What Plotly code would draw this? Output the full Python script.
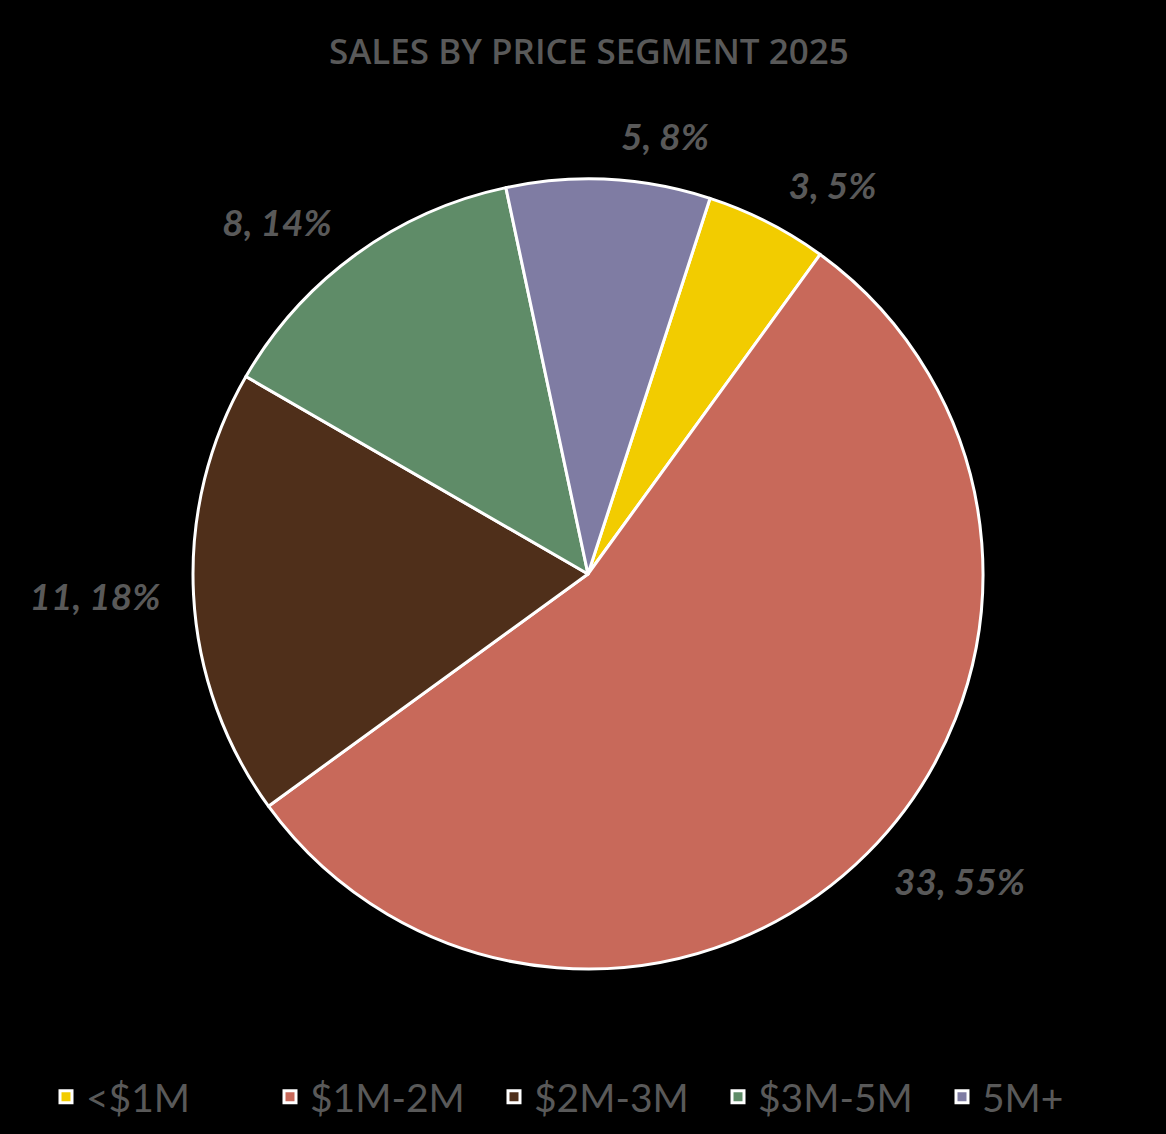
import plotly.graph_objects as go

categories = ["<$1M", "$1M-2M", "$2M-3M", "$3M-5M", "5M+"]
sales = [3, 33, 11, 8, 5]
pct_labels = ["5%", "55%", "18%", "14%", "8%"]
colors = ["#F2CC00", "#C8695A", "#4F2F1A", "#5F8C68", "#7F7CA3"]

W, H = 1166, 1134
pad = 22  # label ring sits a little outside the pie, as in the original

common = dict(labels=categories, values=sales, sort=False, direction="clockwise", rotation=18)

fig = go.Figure()
# label carrier: transparent ring slightly larger than the pie
fig.add_trace(go.Pie(
    **common,
    text=pct_labels,
    texttemplate="%{value}, %{text}",
    textposition="outside",
    domain=dict(x=[(193 - pad) / W, (983 + pad) / W], y=[1 - (969 + pad) / H, 1 - (179 - pad) / H]),
    marker=dict(colors=["rgba(0,0,0,0)"] * len(sales), line=dict(width=0)),
    outsidetextfont=dict(family="Lato", size=37, color="#595959", style="italic", weight="bold"),
    showlegend=False,
    hoverinfo="skip",
))
fig.add_trace(go.Pie(
    **common,
    textinfo="none",
    domain=dict(x=[193 / W, 983 / W], y=[1 - 969 / H, 1 - 179 / H]),
    marker=dict(colors=colors, line=dict(color="white", width=3)),
    showlegend=True,
    hoverinfo="label+value+percent",
))

fig.update_layout(
    width=W, height=H,
    paper_bgcolor="black", plot_bgcolor="black",
    margin=dict(l=0, r=0, t=0, b=0),
    title=dict(text="SALES BY PRICE SEGMENT 2025", x=0.505, xanchor="center", y=1 - 52 / H, yanchor="middle",
               font=dict(family="Open Sans", size=35, color="#595959", weight=600)),
    legend=dict(orientation="h", x=0.522, xanchor="center", y=1 - 1097 / H, yanchor="middle",
                font=dict(family="Lato", size=39, color="#595959"),
                entrywidth=179, entrywidthmode="pixels",
                traceorder="normal"),
)

fig.write_html("out.html", config={"displayModeBar": False},
               post_script="document.body.style.margin='0';document.body.style.background='black';")
